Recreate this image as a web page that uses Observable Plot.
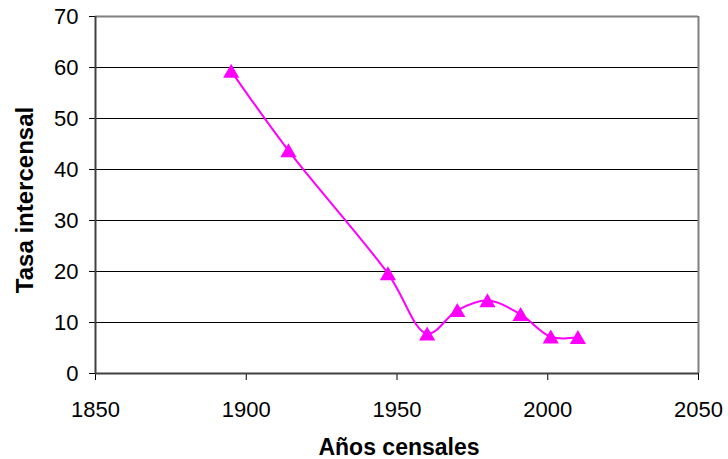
<!DOCTYPE html>
<html>
<head>
<meta charset="utf-8">
<script src="https://cdn.jsdelivr.net/npm/d3@7"></script>
<script src="https://cdn.jsdelivr.net/npm/@observablehq/plot@0.6"></script>
<style>
  html, body { margin: 0; padding: 0; background: #fff; }
</style>
</head>
<body>
<div id="chart"></div>
<script>
const years = [1895, 1914, 1947, 1960, 1970, 1980, 1991, 2001, 2010];
const tasa = [59.3, 43.7, 19.6, 7.8, 12.4, 14.3, 11.6, 7.2, 7.1];
const xTicks = [1850, 1900, 1950, 2000, 2050];
const yTicks = [0, 10, 20, 30, 40, 50, 60, 70];
const gridValues = [10, 20, 30, 40, 50, 60];
const xTitle = "Años censales";
const yTitle = "Tasa intercensal";

const data = years.map((y, i) => ({year: y, tasa: tasa[i]}));

const chart = Plot.plot({
  width: 728,
  height: 459,
  marginLeft: 95,
  marginRight: 30,
  marginTop: 16,
  marginBottom: 86,
  style: {fontSize: "22px", fontFamily: "'Liberation Sans', Arial, sans-serif", color: "#000", background: "#fff"},
  x: {domain: [1850, 2050], ticks: xTicks, tickFormat: d => String(d), tickSize: 7, tickPadding: 21, label: null},
  y: {domain: [0, 70], ticks: yTicks, tickSize: 6, tickPadding: 11, label: null},
  marks: [
    Plot.ruleY(gridValues, {stroke: "#000", strokeWidth: 1}),
    Plot.ruleY([70], {stroke: "#808080", strokeWidth: 2}),
    Plot.ruleX([2050], {stroke: "#808080", strokeWidth: 2}),
    Plot.ruleX([1850], {stroke: "#404040", strokeWidth: 2}),
    Plot.ruleY([0], {stroke: "#404040", strokeWidth: 2}),
    Plot.line(data, {x: "year", y: "tasa", stroke: "#FF00FF", strokeWidth: 2, curve: "catmull-rom"}),
    Plot.dot(data, {x: "year", y: "tasa", symbol: "triangle", r: 6, fill: "#FF00FF", stroke: "none", dy: 2}),
    Plot.text([xTitle], {frameAnchor: "bottom", textAnchor: "middle", lineAnchor: "bottom", dx: 2, dy: 81, fontWeight: "bold", fontSize: 23}),
    Plot.text([yTitle], {frameAnchor: "left", textAnchor: "middle", lineAnchor: "bottom", rotate: -90, dx: -63, dy: 5, fontWeight: "bold", fontSize: 24})
  ]
});
document.getElementById("chart").appendChild(chart);
</script>
</body>
</html>
